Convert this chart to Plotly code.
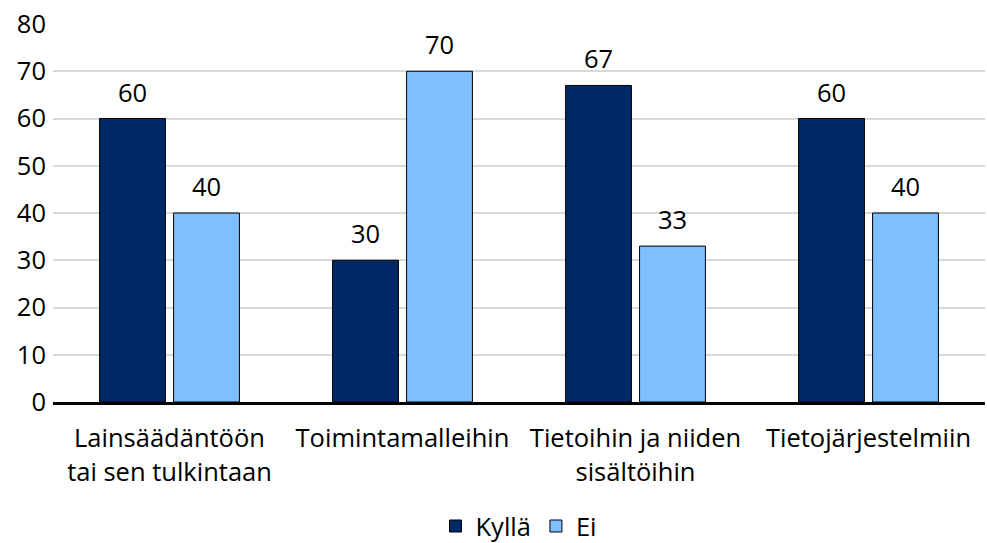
import plotly.graph_objects as go

categories = ["Lainsäädäntöön<br>tai sen tulkintaan", "Toimintamalleihin",
              "Tietoihin ja niiden<br>sisältöihin", "Tietojärjestelmiin"]
kylla = [60, 30, 67, 60]
ei = [40, 70, 33, 40]
y_ticks = [0, 10, 20, 30, 40, 50, 60, 70, 80]

DARK = "#002966"
LIGHT = "#80bfff"
FONT = "Open Sans"
FS = 25.5

fig = go.Figure()
fig.add_trace(go.Bar(name="Kyllä", x=categories, y=kylla, marker=dict(color=DARK, line=dict(color="#000000", width=1))))
fig.add_trace(go.Bar(name="Ei", x=categories, y=ei, marker=dict(color=LIGHT, line=dict(color="#000000", width=1))))

shift = 37
for i, c in enumerate(categories):
    for vals, dx in ((kylla, -shift), (ei, shift)):
        fig.add_annotation(x=c, y=vals[i], text=str(vals[i]), showarrow=False,
                           xshift=dx, yshift=8, yanchor="bottom",
                           font=dict(family=FONT, size=FS, color="#000000"))

fig.update_layout(
    width=987, height=543,
    margin=dict(l=53, r=2, t=24, b=141, autoexpand=False),
    paper_bgcolor="white", plot_bgcolor="white",
    barmode="group", bargap=0.365, bargroupgap=0.11,
    font=dict(family=FONT, size=FS, color="#000000"),
    legend=dict(orientation="h", x=0.5, xanchor="center", y=-0.267, yanchor="top",
                font=dict(size=FS), itemwidth=30, traceorder="normal",
                bgcolor="rgba(0,0,0,0)"),
    showlegend=True,
)
fig.update_yaxes(range=[0, 80], tickvals=y_ticks, showgrid=True, gridcolor="#d9d9d9", gridwidth=1.5,
                 zeroline=False, showline=False, ticks="", tickfont=dict(size=FS),
                 ticklabelstandoff=6, automargin=False)
fig.update_xaxes(showline=True, linecolor="#000000", linewidth=2.5, ticks="",
                 tickfont=dict(size=FS), showgrid=False, ticklabelstandoff=12, automargin=False)

fig.write_html("out.html", config={"displayModeBar": False},
               post_script="document.body.style.margin='0';document.body.style.overflow='hidden';")
